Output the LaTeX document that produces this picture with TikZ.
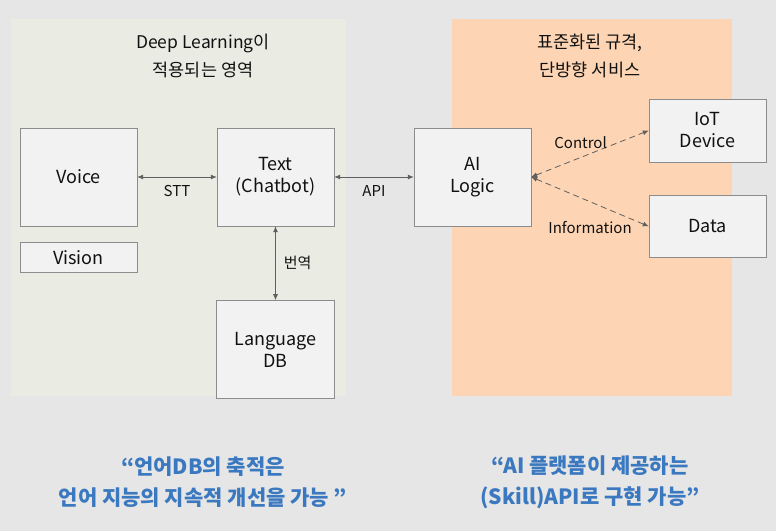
\documentclass[tikz,border=0pt]{standalone}
\usepackage{fontspec}
\setmainfont{Noto Sans CJK KR}
\usetikzlibrary{arrows.meta,positioning}
\definecolor{page}{HTML}{E6E6E6}
\definecolor{dlzone}{HTML}{EAECE3}
\definecolor{apizone}{HTML}{FDD5B4}
\definecolor{boxfill}{HTML}{F2F2F2}
\definecolor{boxline}{HTML}{8C8C8C}
\definecolor{ink}{HTML}{111111}
\definecolor{wire}{HTML}{5F5F5F}
\definecolor{quote}{HTML}{3A78C0}
\tikzset{
  >={Latex[length=6pt,width=5pt]},
  every node/.style={text=ink},
  panel/.style={anchor=north west,inner sep=0pt},
  paneltitle/.style={align=center,font=\fontsize{17.5}{28}\selectfont},
  box/.style={draw=boxline,fill=boxfill,minimum width=117pt,align=center,inner sep=2pt,font=\fontsize{18}{22}\selectfont},
  arrow/.style={<->,thick,draw=wire},
  dasharr/.style={<->,thick,dash pattern=on 6pt off 4pt,draw=wire},
  lbl/.style={font=\fontsize{15}{17}\selectfont,inner sep=2pt},
  quotetext/.style={align=center,text=quote,font=\fontsize{21}{31}\selectfont\bfseries},
}
\begin{document}
\begin{tikzpicture}[x=1pt,y=-1pt]
\useasboundingbox[fill=page] (0,0) rectangle (776,531);

% two zones
\node[panel,fill=dlzone,minimum width=335pt,minimum height=377pt] (dl) at (11,19) {};
\node[panel,fill=apizone,minimum width=280pt,minimum height=377pt] (ai) at (452,19) {};
\node[paneltitle] (dltitle) at (203,56) {Deep Learning이\\적용되는 영역};
\node[paneltitle] (aititle) at (590,56) {표준화된 규격,\\단방향 서비스};

% deep learning side
\node[box,minimum height=98pt] (voice) at (78.5,177) {Voice};
\node[box,minimum height=30pt,below=16pt of voice] (vision) {Vision};
\node[box,minimum height=98pt] (text) at (275.5,177) {Text\\(Chatbot)};
\node[box,minimum height=98pt,minimum width=118pt,below=74pt of text] (langdb) {Language\\DB};

% platform side
\node[box,minimum height=98pt] (logic) at (472.5,177) {AI\\Logic};
\node[box,minimum height=63pt] (iot) at (707.5,130.5) {IoT\\Device};
\node[box,minimum height=62pt,below=33pt of iot] (data) {Data};

\draw[arrow] (voice) -- node[lbl,below=6pt]{STT} (text);
\draw[arrow] (text) -- node[lbl,below=6pt]{API} (logic);
\draw[arrow] (text) -- node[lbl,right=6pt]{번역} (langdb);
\draw[dasharr] (logic.east) -- node[lbl,pos=0.42,above=6pt]{Control} (iot.west);
\draw[dasharr] (logic.east) -- node[lbl,midway,below=17pt]{Information} (data.west);

% conclusions
\node[quotetext] (dlnote) at (203,482) {“언어DB의 축적은\\언어 지능의 지속적 개선을 가능 "};
\node[quotetext] (ainote) at (590,482) {“AI 플랫폼이 제공하는\\(Skill)API로 구현 가능”};

\end{tikzpicture}
\end{document}
